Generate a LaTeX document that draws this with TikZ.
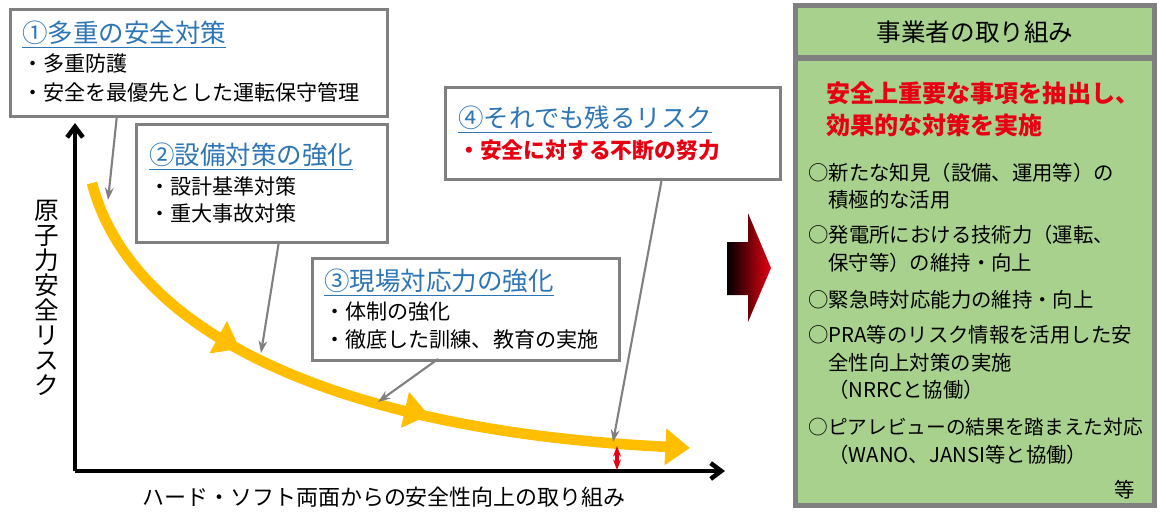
\documentclass[tikz,border=0pt]{standalone}
\usepackage{fontspec}
\setmainfont{Noto Sans CJK JP}
\usetikzlibrary{arrows.meta,decorations.markings,calc}
\definecolor{riskgold}{RGB}{255,190,0}
\definecolor{framegray}{RGB}{128,128,128}
\definecolor{panelgreen}{RGB}{169,209,142}
\definecolor{titleblue}{RGB}{46,117,182}
\definecolor{alertred}{RGB}{230,0,18}
\tikzset{%
  infobox/.style  = {draw=framegray, line width=1.8pt, fill=white,%
                     anchor=north west, inner sep=0pt},%
  boxtitle/.style = {anchor=west, inner sep=0pt, text=titleblue,%
                     font=\fontsize{14.5}{16}\selectfont},%
  boxline/.style  = {anchor=west, inner sep=0pt,%
                     font=\fontsize{12}{14}\selectfont},%
  pointer/.style  = {draw=framegray, line width=1.2pt,%
                     -{Stealth[length=7pt,width=5pt]}},%
  item/.style     = {anchor=west, inner sep=0pt,%
                     font=\fontsize{11.6}{14}\selectfont}%
}
\newcommand{\boxhead}[1]{\underline{#1}}
\begin{document}
\begin{tikzpicture}[x=0.02cm, y=-0.02cm]
	\useasboundingbox (0,0) rectangle (1166,529);
	% axes
	\draw[line width=2.6pt, -{Straight Barb[length=6pt,width=9pt]}] (75,471) -- (75,123);
	\draw[line width=2.6pt, -{Straight Barb[length=6pt,width=9pt]}] (75,471) -- (725,471);
	\node (ylab) at (47,298) [align=center, inner sep=0pt,
		font=\fontsize{14}{14.2}\selectfont] {原\\子\\力\\安\\全\\リ\\ス\\ク};
	\node (xlab) at (384,497) [inner sep=0pt,
		font=\fontsize{12.5}{14}\selectfont] {ハード・ソフト両面からの安全性向上の取り組み};
	% risk curve
	\draw[riskgold, line width=6pt, -{Triangle[length=14pt,width=20pt]},
		postaction={decorate},
		decoration={markings,
			mark=at position 0.33 with {\arrow{Triangle[length=14pt,width=20pt]}},
			mark=at position 0.62 with {\arrow{Triangle[length=14pt,width=20pt]}}}]
		(92,183) .. controls (130,330) and (330,430) .. (690,448);
	\draw[alertred, line width=2pt, {Stealth[length=6pt]}-{Stealth[length=6pt]}]
		(617,446) -- (617,470);
	% boxes
	\node[infobox, minimum width=7.54cm, minimum height=2.14cm] (b1) at (9,8) {};
	\node[boxtitle] (t1) at (22,35) {\boxhead{①多重の安全対策}};
	\node[boxline] at (22,63) {・多重防護};
	\node[boxline] at (22,92) {・安全を最優先とした運転保守管理};
	\node[infobox, minimum width=5.02cm, minimum height=2.36cm] (b2) at (135,123) {};
	\node[boxtitle] (t2) at (149,157) {\boxhead{②設備対策の強化}};
	\node[boxline] at (149,186) {・設計基準対策};
	\node[boxline] at (149,213) {・重大事故対策};
	\node[infobox, minimum width=6.14cm, minimum height=2.04cm] (b3) at (311,257) {};
	\node[boxtitle] (t3) at (324,283) {\boxhead{③現場対応力の強化}};
	\node[boxline] at (324,312) {・体制の強化};
	\node[boxline] at (324,340) {・徹底した訓練、教育の実施};
	\node[infobox, minimum width=6.7cm, minimum height=1.84cm] (b4) at (444,86) {};
	\node[boxtitle] (t4) at (458,120) {\boxhead{④それでも残るリスク}};
	\node[boxline, text=alertred, font=\fontsize{12.4}{14}\selectfont\bfseries] at (458,150) {・安全に対する不断の努力};
	% pointers
	\coordinate (s1) at (117,115); \coordinate (e1) at (108,200);
	\coordinate (s2) at (279,241); \coordinate (e2) at (261,353);
	\coordinate (s3) at (438,359); \coordinate (e3) at (378,402);
	\coordinate (s4) at (662,178); \coordinate (e4) at (613,442);
	\draw[pointer] (s1) -- (e1);
	\draw[pointer] (s2) -- (e2);
	\draw[pointer] (s3) -- (e3);
	\draw[pointer] (s4) -- (e4);
	% big arrow
	\shade[left color=black, right color=alertred]
		(727,242) -- (748,242) -- (748,213) -- (771,268) -- (748,322)
		-- (748,295) -- (727,295) -- cycle;
	% operator panel
	\fill[framegray] (793,3) rectangle (1157,508);
	\fill[panelgreen] (798,8) rectangle (1152,55);
	\fill[panelgreen] (798,61) rectangle (1152,503);
	\node (head) at (975,32) [inner sep=0pt, font=\fontsize{14}{16}\selectfont] {事業者の取り組み};
	\node[item, text=alertred, font=\fontsize{13.7}{16}\selectfont\bfseries] at (826,93) {安全上重要な事項を抽出し、};
	\node[item, text=alertred, font=\fontsize{13.7}{16}\selectfont\bfseries] at (826,125) {効果的な対策を実施};
	\node[item] at (808,173) {○新たな知見（設備、運用等）の};
	\node[item] at (828,200) {積極的な活用};
	\node[item] at (808,235) {○発電所における技術力（運転、};
	\node[item] at (828,263) {保守等）の維持・向上};
	\node[item] at (808,300) {○緊急時対応能力の維持・向上};
	\node[item] at (808,335) {○PRA等のリスク情報を活用した安};
	\node[item] at (828,363) {全性向上対策の実施};
	\node[item] at (828,390) {（NRRCと協働）};
	\node[item, font=\fontsize{11.2}{14}\selectfont] at (808,427) {○ピアレビューの結果を踏まえた対応};
	\node[item] at (828,455) {（WANO、JANSI等と協働）};
	\node[item] at (1114,490) {等};
\end{tikzpicture}
\end{document}
